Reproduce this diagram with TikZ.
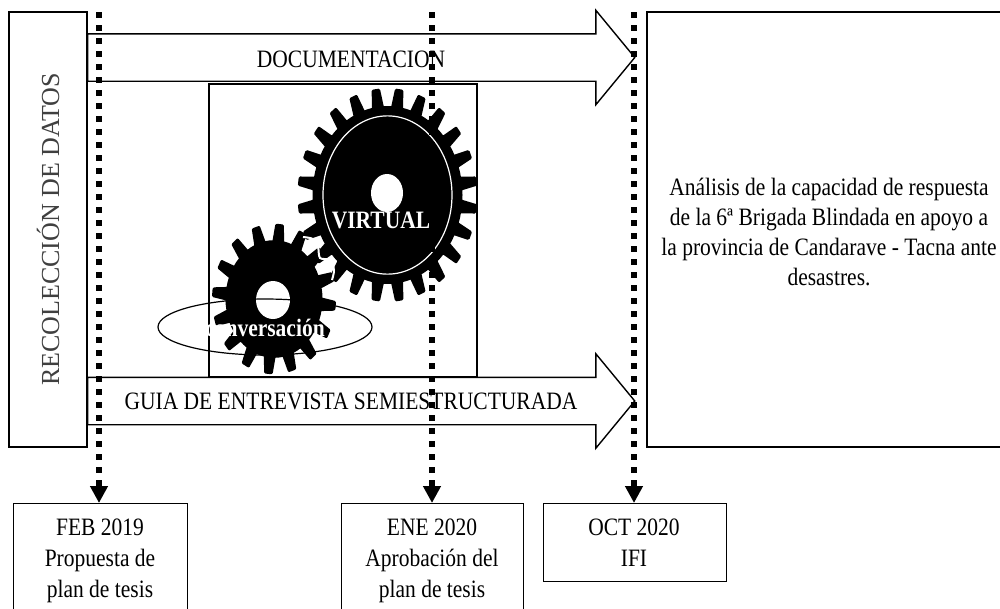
\documentclass[tikz,border=0pt]{standalone}
\usepackage{fontspec}
\setmainfont[FakeStretch=0.86]{Liberation Serif}
\newfontfamily\widefont{Liberation Serif}
\usetikzlibrary{arrows.meta,positioning,shapes.arrows,shapes.geometric}

% one toothed wheel: teeth, tip radius, root radius
\newcommand{\gearwheel}[3]{%
    \filldraw[black, line width=3pt, line join=round] (0:#3)
    \foreach \tooth in {1,...,#1} {
        -- ({(\tooth-1)*360/#1+0.26*360/#1}:#3)
        -- ({(\tooth-1)*360/#1+0.38*360/#1}:#2)
        -- ({(\tooth-1)*360/#1+0.62*360/#1}:#2)
        -- ({(\tooth-1)*360/#1+0.74*360/#1}:#3)
        -- ({\tooth*360/#1}:#3)
    } -- cycle;
}

\begin{document}
\begin{tikzpicture}[
    x=1pt, y=-1pt,
    every node/.style={font=\fontsize{25}{30}\selectfont},
    box/.style={draw, line width=1.4pt, inner sep=0pt},
    flow/.style={draw, line width=1.4pt, single arrow, inner xsep=0pt, inner ysep=23pt, anchor=west,
        minimum height=547pt, minimum width=93pt, single arrow tip angle=101,
        single arrow head extend=23.5pt, shape border rotate=0},
    milestone/.style={black, line width=6pt, dash pattern=on 6pt off 7pt,
        -{Triangle[length=17pt, width=17pt]}}
]
    \clip (0,0) rectangle (1000,608);
    \useasboundingbox (0,0) rectangle (1000,608);

    % big frame with the two wheels
    \node[draw, line width=1.2pt, minimum width=268pt, minimum height=293pt, inner sep=0pt] (frame) at (343,230.5) {};

    % arrows first, box on top of their tails
    \node[flow] (docarrow) at (87,57.5) {};
    \node[flow] (guiaarrow) at (87,401) {};
    \node (doclabel) at (351,59) {DOCUMENTACION};
    \node (guialabel) at (351,401) {GUIA DE ENTREVISTA SEMIESTRUCTURADA};

    \node[box, fill=white, minimum width=78pt, minimum height=435pt] (datos) at (48,229.5) {};
    \node[rotate=90, black!75, font=\fontsize{26}{30}\widefont] (datoslabel) at (datos.center) {RECOLECCIÓN DE DATOS};

    \node[box, minimum width=370pt, minimum height=435pt] (analisis) at (832,229.5) {};
    \node[align=center] (analisislabel) at (829,232) {Análisis de la capacidad de respuesta\\de la 6ª Brigada Blindada en apoyo a\\la provincia de Candarave - Tacna ante\\desastres.};

    % dates
    \node[box, minimum width=174pt, minimum height=120pt, anchor=north west] (feb) at (13,503) {};
    \node[box, minimum width=182pt, minimum height=120pt, anchor=north west] (ene) at (341,503) {};
    \node[box, minimum width=183pt, minimum height=78pt, anchor=north west] (oct) at (543,503) {};
    \node[align=center, font=\fontsize{25}{31}\selectfont] (feblabel) at (100,561) {FEB 2019\\Propuesta de\\plan de tesis};
    \node[align=center, font=\fontsize{25}{31}\selectfont] (enelabel) at (432,561) {ENE 2020\\Aprobación del\\plan de tesis};
    \node[align=center, font=\fontsize{25}{31}\selectfont] (octlabel) at (634,543) {OCT 2020\\IFI};

    % wheels
    \begin{scope}[shift={(387.5,195)}, yscale=1.19]
        \gearwheel{24}{88.5}{73.5}
        \draw[white, line width=1.2pt] (0,0) ellipse (64.5 and 66.5);
    \end{scope}
    \begin{scope}[shift={(274,299)}, yscale=1.22, rotate=6]
        \gearwheel{16}{60.5}{47}
    \end{scope}
    \fill[white] (387,193) ellipse (16 and 19);
    \fill[white] (273,300) ellipse (17 and 19);
    % gap where the teeth meet
    \draw[white, line width=2pt] plot[smooth] coordinates {(303,237) (313,239) (318,247) (320,258) (330,260) (334,270) (332,280)};

    \node[draw, line width=1.2pt, ellipse, minimum width=214pt, minimum height=56pt, inner sep=0pt] (charla) at (265,327) {};
    \node[white, font=\fontsize{25}{30}\selectfont\bfseries] (charlalabel) at (265,328) {conversación};
    \node[white, font=\fontsize{25}{30}\selectfont\bfseries] (virtuallabel) at (381,220) {VIRTUAL};

    % time lines
    \coordinate (febtop) at (99,12);
    \coordinate (enetop) at (432,12);
    \coordinate (octtop) at (634,12);
    \draw[milestone] (febtop) -- (feb.north -| febtop);
    \draw[milestone] (enetop) -- (ene.north -| enetop);
    \draw[milestone] (octtop) -- (oct.north -| octtop);
\end{tikzpicture}
\end{document}
